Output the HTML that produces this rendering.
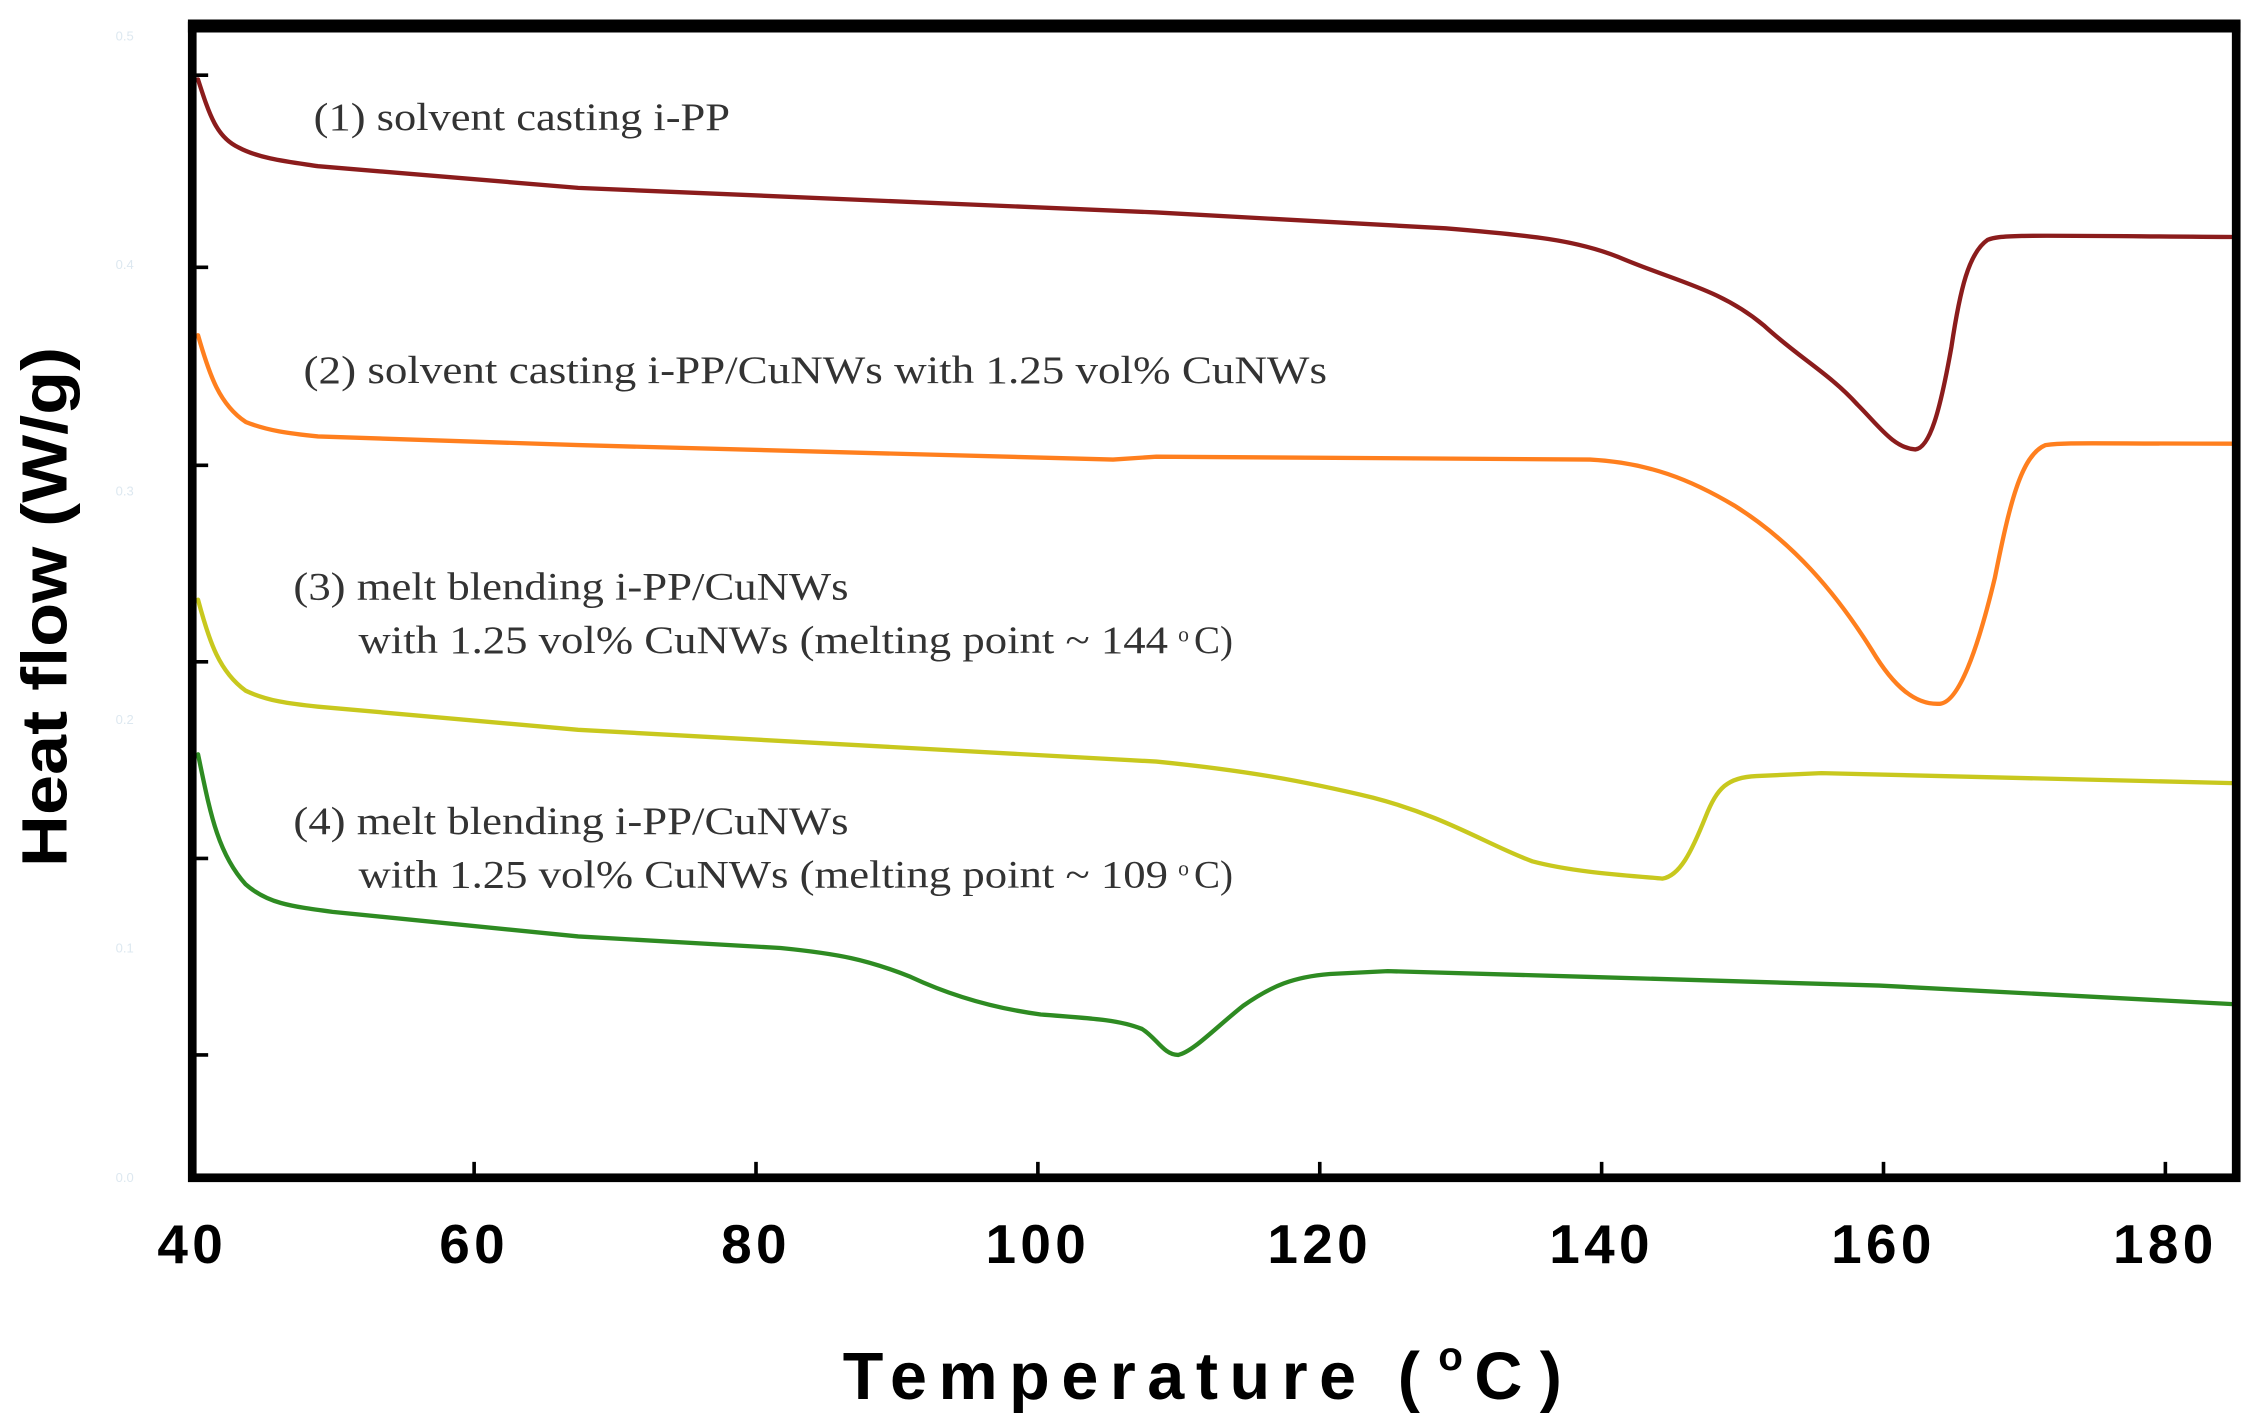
<!DOCTYPE html>
<html><head><meta charset="utf-8"><style>
html,body{margin:0;padding:0;background:#fff}
svg{display:block}
</style></head><body>
<svg width="2255" height="1422" viewBox="0 0 1560 984" preserveAspectRatio="none" xmlns="http://www.w3.org/2000/svg">
<rect width="1560" height="984" fill="#fff"/>
<g fill="none" stroke-linejoin="round" stroke-linecap="round" stroke-width="3">
<path stroke="#8B1C1C" d="M137,55 C145,80 150,95 165,102 C180,110 200,112 220,115 L400,130 L800,147 L1000,158 C1060,163 1090,166 1120,178 C1160,195 1190,200 1220,225 C1245,248 1265,258 1285,280 C1300,295 1310,310 1325,311 C1335,310 1342,285 1350,240 C1356,200 1362,175 1375,166 C1385,162 1400,163 1548,164"/>
<path stroke="#FF7F1E" d="M137,232 C145,260 152,280 170,292 C185,298 200,300 220,302 L400,308 L770,318 L800,316 L1100,318 C1140,320 1170,332 1200,350 C1240,375 1270,410 1295,450 C1310,475 1325,488 1342,487 C1355,486 1368,450 1380,400 C1390,350 1398,315 1415,308 C1430,306 1440,307 1548,307"/>
<path stroke="#C8C81E" d="M137,415 C145,445 152,465 170,478 C185,485 200,487 220,489 L400,505 L600,516 L800,527 C860,533 900,540 950,552 C1000,565 1030,585 1060,596 C1090,604 1130,606 1150,608 C1162,606 1170,590 1180,565 C1188,545 1195,538 1215,537 L1260,535 L1548,542"/>
<path stroke="#2E8B22" d="M137,522 C145,560 150,590 170,612 C185,625 200,627 230,631 L400,648 L540,656 C580,660 600,664 630,676 C660,690 690,698 720,702 C760,705 775,706 790,712 C800,718 805,730 815,730 C825,728 840,712 860,696 C880,682 895,676 920,674 L960,672 L1100,676 L1300,682 L1548,695"/>
</g>
<g stroke="#000" stroke-width="2.5">
<line x1="133" y1="52" x2="144" y2="52"/><line x1="133" y1="185" x2="144" y2="185"/>
<line x1="133" y1="322" x2="144" y2="322"/><line x1="133" y1="458" x2="144" y2="458"/>
<line x1="133" y1="594" x2="144" y2="594"/><line x1="133" y1="730" x2="144" y2="730"/>
<line x1="328" y1="815" x2="328" y2="804"/><line x1="523" y1="815" x2="523" y2="804"/>
<line x1="718" y1="815" x2="718" y2="804"/><line x1="913" y1="815" x2="913" y2="804"/>
<line x1="1108" y1="815" x2="1108" y2="804"/><line x1="1303" y1="815" x2="1303" y2="804"/>
<line x1="1498" y1="815" x2="1498" y2="804"/>
</g>
<rect x="133" y="18" width="1414" height="797" fill="none" stroke="#000" stroke-width="6"/>
<line x1="130" y1="18" x2="1550" y2="18" stroke="#000" stroke-width="9"/>
<g font-family="Liberation Sans, sans-serif" font-size="9" fill="#dde8f0">
<text x="80" y="28">0.5</text><text x="80" y="186">0.4</text><text x="80" y="343">0.3</text>
<text x="80" y="501">0.2</text><text x="80" y="659">0.1</text><text x="80" y="818">0.0</text>
</g>
<g font-family="Liberation Serif, serif" font-size="27" fill="#333">
<text x="217" y="90" textLength="288" lengthAdjust="spacingAndGlyphs">(1) solvent casting i-PP</text>
<text x="210" y="265" textLength="708" lengthAdjust="spacingAndGlyphs">(2) solvent casting i-PP/CuNWs  with 1.25 vol% CuNWs</text>
<text x="203" y="415" textLength="384" lengthAdjust="spacingAndGlyphs">(3) melt blending i-PP/CuNWs</text>
<text x="248" y="452" textLength="560" lengthAdjust="spacingAndGlyphs">with 1.25 vol% CuNWs (melting point ~ 144</text>
<text x="815" y="444" font-size="15">o</text><text x="826" y="452">C)</text>
<text x="203" y="577" textLength="384" lengthAdjust="spacingAndGlyphs">(4) melt blending i-PP/CuNWs</text>
<text x="248" y="614" textLength="560" lengthAdjust="spacingAndGlyphs">with 1.25 vol% CuNWs (melting point ~ 109</text>
<text x="815" y="606" font-size="15">o</text><text x="826" y="614">C)</text>
</g>
<g font-family="Liberation Sans, sans-serif" font-weight="bold" font-size="38" fill="#000" text-anchor="middle">
<text x="133" y="874" letter-spacing="3">40</text><text x="328" y="874" letter-spacing="3">60</text>
<text x="523" y="874" letter-spacing="3">80</text><text x="718" y="874" letter-spacing="3">100</text>
<text x="913" y="874" letter-spacing="3">120</text><text x="1108" y="874" letter-spacing="3">140</text>
<text x="1303" y="874" letter-spacing="3">160</text><text x="1498" y="874" letter-spacing="3">180</text>
</g>
<g font-family="Liberation Sans, sans-serif" font-weight="bold" fill="#000">
<text x="583" y="968" font-size="46" letter-spacing="8">Temperature (</text>
<text x="995" y="948" font-size="28">o</text>
<text x="1020" y="968" font-size="46" letter-spacing="12">C)</text>
<text transform="translate(46,420) rotate(-90)" font-size="44" text-anchor="middle" textLength="360" lengthAdjust="spacingAndGlyphs">Heat flow (W/g)</text>
</g>
</svg>
</body></html>
